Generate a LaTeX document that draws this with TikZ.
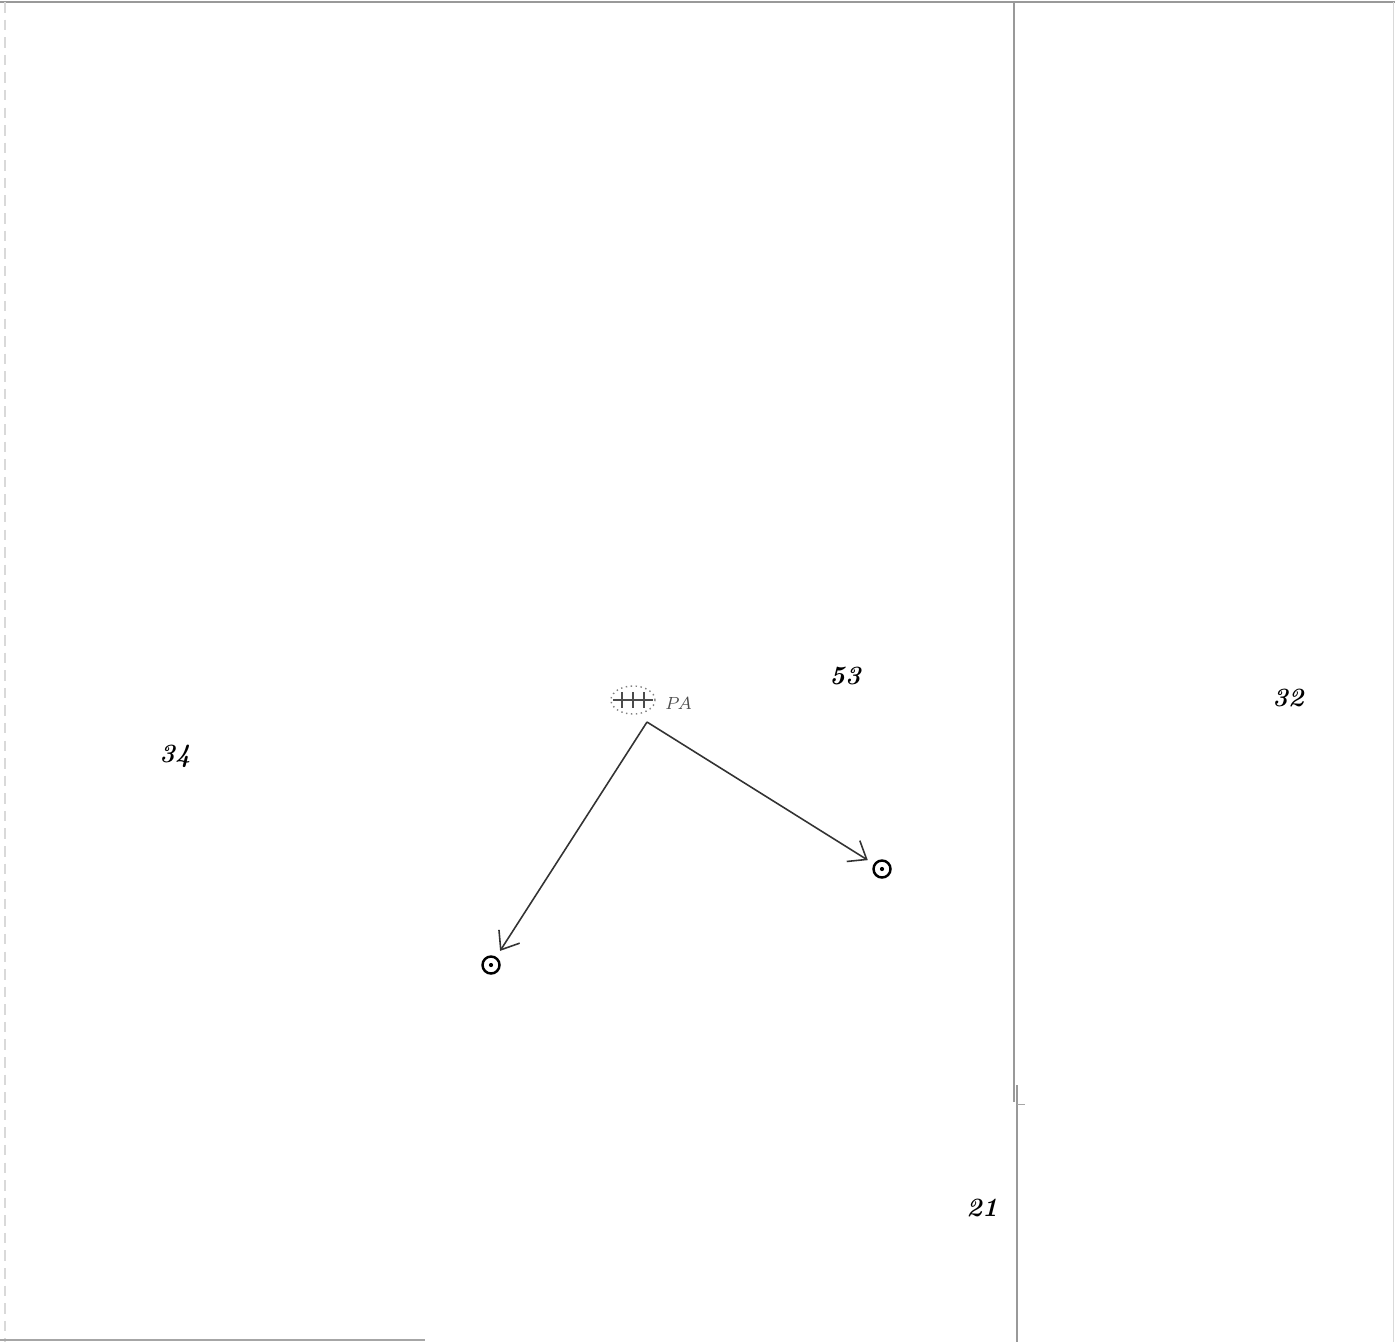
\documentclass[tikz,border=0pt]{standalone}
\usetikzlibrary{arrows.meta, shapes.geometric}
\begin{document}
\begin{tikzpicture}[x=0.01cm, y=-0.01cm,
  every node/.style={inner sep=0pt},
  num/.style={font=\fontsize{7.5}{8}\selectfont\bfseries\itshape},
  spot/.style={circle, draw, line width=0.7pt, minimum size=0.17cm},
  flow/.style={draw=black!80, line width=0.45pt, -{Straight Barb[length=4.5pt, width=7pt]}, shorten >=2pt}]
\useasboundingbox (0,0) rectangle (1395,1342);
% Frame
\draw[gray!80, line width=0.5pt] (0,2)--(1395,2);
\draw[gray!30, line width=0.3pt, densely dashed] (5,2)--(5,1342);
\draw[gray!30, line width=0.3pt] (1393,2)--(1393,1342);
\draw[gray!70, line width=0.5pt] (0,1340)--(425,1340);
\draw[gray!80, line width=0.5pt] (1014,2)--(1014,1102);
\draw[gray!80, line width=0.5pt] (1017,1085)--(1017,1342);
\draw[gray!70, line width=0.3pt] (1017,1104)--(1025,1104);
% Room numbers
\node[num] (r34) at (175,756) {34};
\node[num] (r53) at (845,676) {53};
\node[num] (r32) at (1288,698) {32};
\node[num] (r21) at (982,1208) {21};
% PA symbol
\node[draw=gray, densely dotted, ellipse, minimum width=0.44cm, minimum height=0.28cm, line width=0.4pt] (pa) at (633,700) {};
\draw[black!70, line width=0.4pt] (613,700)--(653,700);
\foreach \x in {622,633,644} \draw[black!70, line width=0.4pt] (\x,692)--(\x,708);
\node[font=\fontsize{5}{6}\selectfont\itshape, text=black!70, anchor=west] (palbl) at (664,703) {PA};
\coordinate (src) at (647,722);
% Outlets
\node[spot] (o1) at (491,965) {};
\node[spot] (o2) at (882,869) {};
\fill (o1) circle (0.6pt);
\fill (o2) circle (0.6pt);
\draw[flow] (src)--(o1);
\draw[flow] (src)--(o2);
\end{tikzpicture}
\end{document}
